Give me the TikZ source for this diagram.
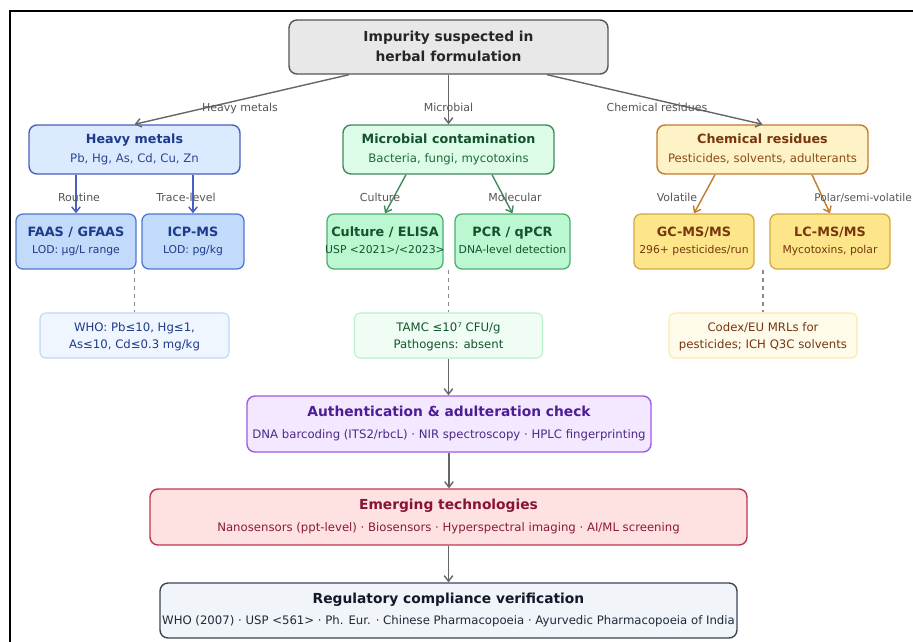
\documentclass[tikz,border=0pt]{standalone}
\usepackage{fontspec}
\setmainfont{DejaVu Sans}
\usetikzlibrary{arrows.meta,calc}
\definecolor{topfill}{HTML}{E8E8E8}\definecolor{topdraw}{HTML}{555555}
\definecolor{hmfill}{HTML}{DBEAFE}\definecolor{hmdraw}{HTML}{4A5FC1}\definecolor{hmtext}{HTML}{1E3A8A}\definecolor{hmsub}{HTML}{2D4591}
\definecolor{hcfill}{HTML}{C2DBFB}\definecolor{hcdraw}{HTML}{5078D0}
\definecolor{hnfill}{HTML}{EFF6FF}\definecolor{hndraw}{HTML}{BFD5F5}
\definecolor{mcfill}{HTML}{DCFCE7}\definecolor{mcdraw}{HTML}{3D8B5A}\definecolor{mctext}{HTML}{14532D}\definecolor{mcsub}{HTML}{1F6B3A}
\definecolor{mchfill}{HTML}{BBF7D0}\definecolor{mchdraw}{HTML}{4CAF6E}
\definecolor{mnfill}{HTML}{F0FDF4}\definecolor{mndraw}{HTML}{BBF0CC}
\definecolor{crfill}{HTML}{FEF3C7}\definecolor{crdraw}{HTML}{C27A2C}\definecolor{crtext}{HTML}{78350F}\definecolor{crsub}{HTML}{8A4A15}
\definecolor{crhfill}{HTML}{FDE68A}\definecolor{crhdraw}{HTML}{D4A843}
\definecolor{cnfill}{HTML}{FFFBEB}\definecolor{cndraw}{HTML}{FDE9A8}
\definecolor{aufill}{HTML}{F3E8FF}\definecolor{audraw}{HTML}{9D5CE6}\definecolor{autext}{HTML}{4C1D95}\definecolor{ausub}{HTML}{4C2A85}
\definecolor{emfill}{HTML}{FEE2E2}\definecolor{emdraw}{HTML}{C0344F}\definecolor{emtext}{HTML}{881337}\definecolor{emsub}{HTML}{8B1A3A}
\definecolor{rgfill}{HTML}{F1F5F9}\definecolor{rgdraw}{HTML}{3B4754}\definecolor{rgtext}{HTML}{111827}\definecolor{rgsub}{HTML}{1F2937}
\definecolor{lbl}{HTML}{555555}\definecolor{arr}{HTML}{666666}\definecolor{dsh}{HTML}{8A8A8A}
\tikzset{
  box/.style={draw, rounded corners=8pt, line width=1.4pt, inner sep=0pt},
  chbox/.style={draw, rounded corners=7pt, line width=1.3pt, inner sep=0pt},
  notebox/.style={draw, rounded corners=6pt, line width=1.1pt, inner sep=0pt},
  txt/.style={inner sep=0pt, text height=0.73em, text depth=0pt},
  bigttl/.style={txt, font=\bfseries\fontsize{13.8}{16}\selectfont},
  catttl/.style={txt, font=\bfseries\fontsize{12.7}{15}\selectfont},
  chttl/.style={txt, font=\bfseries\fontsize{12.8}{15}\selectfont},
  chsub/.style={txt, font=\fontsize{10.8}{13}\selectfont},
  desc/.style={txt, font=\fontsize{11.7}{14}\selectfont},
  elbl/.style={txt, font=\fontsize{11}{13}\selectfont, text=lbl},
  tip/.style={-{Straight Barb[length=5.5pt,width=8.5pt]}},
  garrow/.style={tip, draw=arr, line width=1.4pt},
  dashline/.style={draw=dsh, line width=1.3pt, dash pattern=on 4pt off 4pt},
}
\begin{document}
\begin{tikzpicture}[x=1pt,y=-1pt]
\useasboundingbox (0,0) rectangle (913,641);
\draw[line width=2pt] (10,650) -- (10,11) -- (920,11);

% top
\node[box, fill=topfill, draw=topdraw, minimum width=319pt, minimum height=54pt] (top) at (448.5,47) {};
\node[bigttl, text=black!85] (topt1) at (448.5,37.5) {Impurity suspected in};
\node[bigttl, text=black!85] (topt2) at (448.5,57.5) {herbal formulation};

% categories
\node[box, fill=hmfill, draw=hmdraw, minimum width=211pt, minimum height=49pt] (hm) at (134.5,149.5) {};
\node[catttl, text=hmtext] (hmt) at (134.5,140) {Heavy metals};
\node[desc, text=hmsub] (hms) at (134.5,158.5) {Pb, Hg, As, Cd, Cu, Zn};

\node[box, fill=mcfill, draw=mcdraw, minimum width=211pt, minimum height=49pt] (mc) at (448.5,149.5) {};
\node[catttl, text=mctext] (mct) at (448.5,140) {Microbial contamination};
\node[desc, text=mcsub] (mcs) at (448.5,158.5) {Bacteria, fungi, mycotoxins};

\node[box, fill=crfill, draw=crdraw, minimum width=211pt, minimum height=49pt] (cr) at (762.5,149.5) {};
\node[catttl, text=crtext] (crt) at (762.5,140) {Chemical residues};
\node[desc, text=crsub] (crs) at (762.5,158.5) {Pesticides, solvents, adulterants};

% children
\node[chbox, fill=hcfill, draw=hcdraw, minimum width=120pt, minimum height=55pt] (faas) at (76,241.5) {};
\node[chttl, text=hmtext] (faast) at (76,232.5) {FAAS / GFAAS};
\node[chsub, text=hmtext] (faass) at (76,249.5) {LOD: µg/L range};
\node[chbox, fill=hcfill, draw=hcdraw, minimum width=102pt, minimum height=55pt] (icp) at (193,241.5) {};
\node[chttl, text=hmtext] (icpt) at (193,232.5) {ICP-MS};
\node[chsub, text=hmtext] (icps) at (193,249.5) {LOD: pg/kg};

\node[chbox, fill=mchfill, draw=mchdraw, minimum width=116pt, minimum height=55pt] (cul) at (385,241.5) {};
\node[chttl, text=mctext] (cult) at (385,232.5) {Culture / ELISA};
\node[chsub, text=mctext] (culs) at (385,249.5) {USP <2021>/<2023>};
\node[chbox, fill=mchfill, draw=mchdraw, minimum width=115pt, minimum height=55pt] (pcr) at (512.5,241.5) {};
\node[chttl, text=mctext] (pcrt) at (512.5,232.5) {PCR / qPCR};
\node[chsub, text=mctext] (pcrs) at (512.5,249.5) {DNA-level detection};

\node[chbox, fill=crhfill, draw=crhdraw, minimum width=120pt, minimum height=55pt] (gc) at (694,241.5) {};
\node[chttl, text=crtext] (gct) at (694,232.5) {GC-MS/MS};
\node[chsub, text=crtext] (gcs) at (694,249.5) {296+ pesticides/run};
\node[chbox, fill=crhfill, draw=crhdraw, minimum width=120pt, minimum height=55pt] (lc) at (830,241.5) {};
\node[chttl, text=crtext] (lct) at (830,232.5) {LC-MS/MS};
\node[chsub, text=crtext] (lcs) at (830,249.5) {Mycotoxins, polar};

% notes
\node[notebox, fill=hnfill, draw=hndraw, minimum width=189pt, minimum height=45pt] (who) at (134.5,335.5) {};
\node[desc, text=hmtext] (who1) at (134.5,327.5) {WHO: Pb≤10, Hg≤1,};
\node[desc, text=hmtext] (who2) at (134.5,345) {As≤10, Cd≤0.3 mg/kg};
\node[notebox, fill=mnfill, draw=mndraw, minimum width=188pt, minimum height=45pt] (tamc) at (448.5,335.5) {};
\node[desc, text=mctext] (tamc1) at (448.5,327.5) {TAMC ≤10⁷ CFU/g};
\node[desc, text=mctext] (tamc2) at (448.5,345) {Pathogens: absent};
\node[notebox, fill=cnfill, draw=cndraw, minimum width=188pt, minimum height=45pt] (cdx) at (763,335.5) {};
\node[desc, text=crtext] (cdx1) at (763,327.5) {Codex/EU MRLs for};
\node[desc, text=crtext] (cdx2) at (763,345) {pesticides; ICH Q3C solvents};

% bottom
\node[box, fill=aufill, draw=audraw, minimum width=404pt, minimum height=56pt] (au) at (449,424) {};
\node[bigttl, text=autext] (aut) at (449,413) {Authentication \& adulteration check};
\node[desc, text=ausub] (aus) at (449,435) {DNA barcoding (ITS2/rbcL) · NIR spectroscopy · HPLC fingerprinting};

\node[box, fill=emfill, draw=emdraw, minimum width=597pt, minimum height=56pt] (em) at (448.5,517) {};
\node[bigttl, text=emtext] (emt) at (448.5,506) {Emerging technologies};
\node[desc, text=emsub] (ems) at (448.5,527.5) {Nanosensors (ppt-level) · Biosensors · Hyperspectral imaging · AI/ML screening};

\node[box, fill=rgfill, draw=rgdraw, minimum width=577pt, minimum height=55pt] (rg) at (448.5,610.5) {};
\node[bigttl, text=rgtext] (rgt) at (448.5,599.5) {Regulatory compliance verification};
\node[desc, text=rgsub] (rgs) at (448.5,620.5) {WHO (2007) · USP <561> · Ph. Eur. · Chinese Pharmacopoeia · Ayurvedic Pharmacopoeia of India};

% top arrows
\draw[garrow] ([xshift=-99.5pt]top.south) -- (hm.north);
\draw[garrow] (top.south) -- (mc.north);
\draw[garrow] ([xshift=98.5pt]top.south) -- (cr.north);
\node[elbl] (l1) at (240,108) {Heavy metals};
\node[elbl] (l2) at (448.5,108) {Microbial};
\node[elbl] (l3) at (657,108) {Chemical residues};

% child arrows
\draw[tip, draw=hmdraw, line width=1.4pt] (faas.north |- hm.south) -- (faas.north);
\draw[tip, draw=hmdraw, line width=1.4pt] (icp.north |- hm.south) -- (icp.north);
\draw[tip, draw=mcdraw, line width=1.4pt] ([xshift=-42.5pt]mc.south) -- (cul.north);
\draw[tip, draw=mcdraw, line width=1.4pt] ([xshift=43.5pt]mc.south) -- (pcr.north);
\draw[tip, draw=crdraw, line width=1.4pt] ([xshift=-47.5pt]cr.south) -- (gc.north);
\draw[tip, draw=crdraw, line width=1.4pt] ([xshift=49.5pt]cr.south) -- (lc.north);
\node[elbl] (l4) at (79,198) {Routine};
\node[elbl] (l5) at (186,198) {Trace-level};
\node[elbl] (l6) at (380,198) {Culture};
\node[elbl] (l7) at (515,198) {Molecular};
\node[elbl] (l8) at (677,198) {Volatile};
\node[elbl, anchor=east, font=\fontsize{10.6}{13}\selectfont] (l9) at (912,198) {Polar/semi-volatile};

% dashed
\draw[dashline] (who.north |- faas.south) -- (who.north);
\draw[dashline] (tamc.north |- cul.south) -- (tamc.north);
\draw[dashline] (cdx.north |- gc.south) -- (cdx.north);

% main flow
\draw[garrow] (tamc.south) -- (tamc.south |- au.north);
\draw[garrow] (au.south) -- (au.south |- em.north);
\draw[garrow] (em.south) -- (em.south |- rg.north);
\end{tikzpicture}
\end{document}
